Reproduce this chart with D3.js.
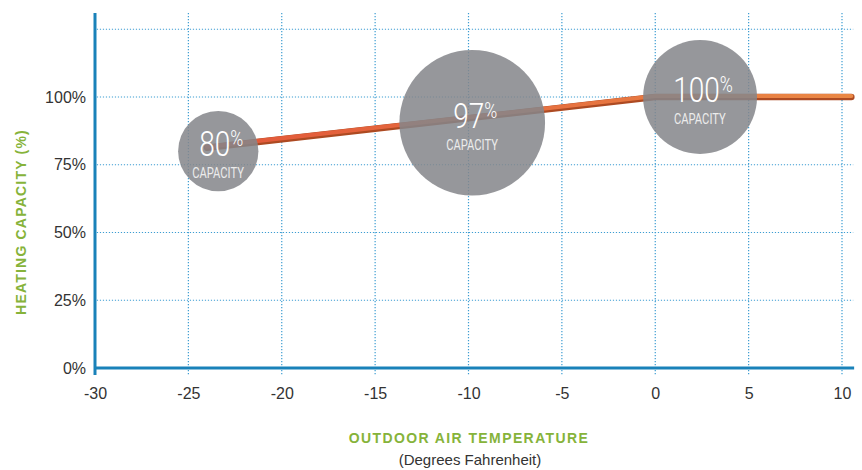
<!DOCTYPE html>
<html>
<head>
<meta charset="utf-8">
<script src="https://cdn.jsdelivr.net/npm/d3@7"></script>
<style>
  body { margin: 0; background: #fff; }
  svg { display: block; font-family: "Liberation Sans", Arial, sans-serif; }
</style>
</head>
<body>
<div id="container"></div>
<script>
/* DATA */
const tempTicks = [-30, -25, -20, -15, -10, -5, 0, 5, 10];
const capacityTicks = [0, 25, 50, 75, 100];
const gridCapacity = [25, 50, 75, 100, 125];

// capacity curve (deg F -> %)
const lineTemps = [-24, 0, 10.5];
const lineCapacity = [81.3, 100, 100];

// bubbles
const bubbleTemps = [-23.4, -9.8, 2.4];
const bubbleCapacity = [80, 90.5, 100];
const bubbleLabels = ["80", "97", "100"];
const bubbleSpan = [2.15, 3.9, 3.05]; // half width of bubble in deg F

/* CONSTANTS */
const width = 862;
const height = 470;
const axisBlue = "#1a82b9";
const gridBlue = "#3d9dd2";
const green = "#86b33a";

const svg = d3.select("#container")
  .append("svg")
  .attr("width", width)
  .attr("height", height);

/* SCALES */
const xScale = d3.scaleLinear()
  .domain([-30, 10])
  .range([95, 842]);

const yScale = d3.scaleLinear()
  .domain([0, 100])
  .range([368, 97]);

/* GRID */
svg.append("g")
  .selectAll("line")
  .data(gridCapacity)
  .join("line")
    .attr("x1", xScale(-29.9))
    .attr("x2", xScale(10.6))
    .attr("y1", d => yScale(d))
    .attr("y2", d => yScale(d))
    .attr("stroke", gridBlue)
    .attr("stroke-width", 1.2)
    .attr("stroke-dasharray", "1.2,1.8");

svg.append("g")
  .selectAll("line")
  .data(tempTicks.slice(1))
  .join("line")
    .attr("x1", d => xScale(d))
    .attr("x2", d => xScale(d))
    .attr("y1", yScale(131))
    .attr("y2", yScale(0) + 7)
    .attr("stroke", gridBlue)
    .attr("stroke-width", 1.2)
    .attr("stroke-dasharray", "1.2,1.8");

/* AXES */
const xAxis = d3.axisBottom(xScale)
  .tickValues(tempTicks)
  .tickFormat(d => String(d))
  .tickSize(0)
  .tickPadding(20)
  .tickSizeOuter(0);

const xG = svg.append("g")
  .attr("transform", `translate(0, ${yScale(0)})`)
  .call(xAxis);
xG.select(".domain").remove();
xG.selectAll("text")
  .attr("font-size", 16)
  .attr("font-family", "'Liberation Sans', Arial, sans-serif")
  .attr("fill", "#333");

const yAxis = d3.axisLeft(yScale)
  .tickValues(capacityTicks)
  .tickFormat(d => d + "%")
  .tickSize(0)
  .tickPadding(9);

const yG = svg.append("g")
  .attr("transform", `translate(${xScale(-30)}, 0)`)
  .call(yAxis);
yG.select(".domain").remove();
yG.selectAll("text")
  .attr("font-size", 16)
  .attr("font-family", "'Liberation Sans', Arial, sans-serif")
  .attr("fill", "#333");

// axis lines
svg.append("line")
  .attr("x1", xScale(-30))
  .attr("x2", xScale(10.65))
  .attr("y1", yScale(0))
  .attr("y2", yScale(0))
  .attr("stroke", axisBlue)
  .attr("stroke-width", 3);

svg.append("line")
  .attr("x1", xScale(-30))
  .attr("x2", xScale(-30))
  .attr("y1", yScale(131))
  .attr("y2", yScale(0) + 7)
  .attr("stroke", axisBlue)
  .attr("stroke-width", 3);

/* LINE */
const defs = svg.append("defs");
const grad = defs.append("linearGradient")
  .attr("id", "lineGrad")
  .attr("gradientUnits", "userSpaceOnUse")
  .attr("x1", xScale(-24)).attr("x2", xScale(10.5))
  .attr("y1", 0).attr("y2", 0);
grad.append("stop").attr("offset", "0%").attr("stop-color", "#e2573a");
grad.append("stop").attr("offset", "100%").attr("stop-color", "#ea8845");

const lineData = lineTemps.map((t, i) => ({ t: t, c: lineCapacity[i] }));
const line = d3.line()
  .x(d => xScale(d.t))
  .y(d => yScale(d.c));

svg.append("path")
  .datum(lineData)
  .attr("d", line)
  .attr("fill", "none")
  .attr("stroke", "#ad4a22")
  .attr("stroke-width", 6.5)
  .attr("stroke-linecap", "round")
  .attr("stroke-linejoin", "round");

svg.append("path")
  .datum(lineData)
  .attr("d", line)
  .attr("transform", "translate(0,-1)")
  .attr("fill", "none")
  .attr("stroke", "url(#lineGrad)")
  .attr("stroke-width", 4)
  .attr("stroke-linecap", "round")
  .attr("stroke-linejoin", "round");

/* BUBBLES */
const bubbles = bubbleTemps.map((t, i) => ({
  t: t, c: bubbleCapacity[i], label: bubbleLabels[i], span: bubbleSpan[i]
}));

const bub = svg.append("g")
  .selectAll("g")
  .data(bubbles)
  .join("g")
    .attr("transform", d => `translate(${xScale(d.t)}, ${yScale(d.c)})`);

bub.append("circle")
  .attr("r", d => xScale(d.t + d.span) - xScale(d.t))
  .attr("fill", "#85868a")
  .attr("fill-opacity", 0.86);

const lab = bub.append("g")
  .attr("transform", "translate(3,0) scale(0.8,1)");

const num = lab.append("text")
  .attr("text-anchor", "middle")
  .attr("y", 5)
  .attr("fill", "#fff")
  .attr("font-family", "Roboto, sans-serif")
  .attr("font-weight", 300);
num.append("tspan")
  .attr("font-size", 35)
  .text(d => d.label);
num.append("tspan")
  .attr("font-size", 22)
  .attr("dy", -10)
  .text("%");

lab.append("text")
  .attr("text-anchor", "middle")
  .attr("x", -4)
  .attr("y", 27)
  .attr("fill", "#ececec")
  .attr("font-family", "Roboto, sans-serif")
  .attr("font-size", 14)
  .text("CAPACITY");

/* TITLES */
svg.append("text")
  .attr("transform", `translate(26, 222) rotate(-90)`)
  .attr("text-anchor", "middle")
  .attr("fill", green)
  .attr("font-weight", "bold")
  .attr("font-size", 14)
  .attr("letter-spacing", 1.2)
  .text("HEATING CAPACITY (%)");

svg.append("text")
  .attr("x", 469)
  .attr("y", 443)
  .attr("text-anchor", "middle")
  .attr("fill", green)
  .attr("font-weight", "bold")
  .attr("font-size", 14)
  .attr("letter-spacing", 1.4)
  .text("OUTDOOR AIR TEMPERATURE");

svg.append("text")
  .attr("x", 470)
  .attr("y", 465)
  .attr("text-anchor", "middle")
  .attr("fill", "#333")
  .attr("font-size", 15)
  .text("(Degrees Fahrenheit)");
</script>
</body>
</html>
